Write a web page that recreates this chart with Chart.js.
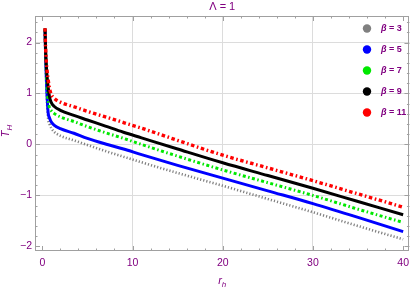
<!DOCTYPE html>
<html><head><meta charset="utf-8">
<script src="https://cdn.jsdelivr.net/npm/chart.js@4/dist/chart.umd.min.js"></script>
<style>html,body{margin:0;padding:0;background:#fff;}canvas{display:block;}</style>
</head><body>
<canvas id="c" width="415" height="289"></canvas>
<script>
const rh = [0.3,0.35,0.4,0.5,0.65,0.8,1,1.3,2,3.5,5,7,9,11,15,20,25,30,35,40];
const beta3  = [2.22,1.80,1.45,0.92,0.50,0.40,0.32,0.25,0.17,0.08,-0.01,-0.13,-0.24,-0.35,-0.56,-0.81,-1.07,-1.33,-1.60,-1.86];
const beta5  = [2.25,1.85,1.52,1.05,0.62,0.52,0.44,0.38,0.31,0.22,0.12,0.01,-0.09,-0.20,-0.41,-0.66,-0.91,-1.16,-1.43,-1.71];
const beta7  = [2.26,1.90,1.62,1.22,0.85,0.72,0.66,0.61,0.54,0.45,0.35,0.23,0.12,0.00,-0.23,-0.50,-0.75,-1.00,-1.27,-1.53];
const beta9  = [2.28,1.95,1.70,1.40,1.12,0.93,0.82,0.75,0.67,0.57,0.48,0.36,0.24,0.13,-0.09,-0.36,-0.61,-0.86,-1.12,-1.38];
const beta11 = [2.28,1.98,1.76,1.50,1.27,1.10,0.98,0.91,0.83,0.74,0.65,0.54,0.43,0.32,0.08,-0.21,-0.46,-0.71,-0.97,-1.23];
const seriesLabels = ['\u03B2 = 3','\u03B2 = 5','\u03B2 = 7','\u03B2 = 9','\u03B2 = 11'];
const xTickValues = [0,10,20,30,40];
const yTickValues = [-2,-1,0,1,2];
const titleText = '\u039B = 1';

const PURPLE = '#800080';
const colors = ['#808080','#0000ff','#00e800','#000000','#ff0000'];
const widths = [2.6,3,3,3,3.4];
const dashes = [[1.2,2.0],[],[3,2.5,1.5,2.5],[],[3.5,2.6,1.6,2.6]];
const allSeries = [beta3,beta5,beta7,beta9,beta11];

const datasets = allSeries.map((s,i)=>({
  label: seriesLabels[i],
  data: rh.map((r,j)=>({x:r,y:s[j]})),
  borderColor: colors[i],
  borderWidth: widths[i],
  borderDash: dashes[i],
  borderCapStyle: 'butt',
  pointRadius: 0,
  fill: false,
  cubicInterpolationMode: 'monotone',
  order: 5-i
}));

const framePlugin = {
  id:'frame',
  afterDraw(chart){
    const ctx = chart.ctx, a = chart.chartArea;
    const xs = chart.scales.x, ys = chart.scales.y;
    ctx.save();
    ctx.strokeStyle = '#a0a0a0';
    ctx.lineWidth = 1;
    ctx.strokeRect(Math.round(a.left)+0.5, Math.round(a.top)+0.5, Math.round(a.right-a.left)-1, Math.round(a.bottom-a.top)-1);
    ctx.beginPath();
    for (let v=0; v<=40.001; v+=2){
      const major = Math.abs(v%10)<1e-6;
      const len = major?5:2.5;
      const px = Math.round(xs.getPixelForValue(v))+0.5;
      ctx.moveTo(px,a.bottom); ctx.lineTo(px,a.bottom-len);
      ctx.moveTo(px,a.top); ctx.lineTo(px,a.top+len);
    }
    for (let k=-10; k<=12; k++){
      const v=k*0.2;
      const major = k%5===0;
      const len = major?5:2.5;
      const py = Math.round(ys.getPixelForValue(v))+0.5;
      ctx.moveTo(a.left,py); ctx.lineTo(a.left+len,py);
      ctx.moveTo(a.right,py); ctx.lineTo(a.right-len,py);
    }
    ctx.stroke();

    ctx.fillStyle = PURPLE;
    ctx.font = '11px "Liberation Sans", Arial, sans-serif';
    ctx.textAlign='center'; ctx.textBaseline='middle';
    ctx.fillText(titleText, (a.left+a.right)/2, 7);

    const cx = (a.left+a.right)/2, cy = 282;
    ctx.font = 'italic 11px "Liberation Sans", Arial, sans-serif';
    ctx.textAlign='left'; ctx.textBaseline='alphabetic';
    const wr = ctx.measureText('r').width;
    ctx.font = 'italic 8px "Liberation Sans", Arial, sans-serif';
    const wh = ctx.measureText('h').width;
    const x0 = cx-(wr+wh)/2;
    ctx.font = 'italic 11px "Liberation Sans", Arial, sans-serif';
    ctx.fillText('r', x0, cy+2);
    ctx.font = 'italic 8px "Liberation Sans", Arial, sans-serif';
    ctx.fillText('h', x0+wr, cy+4.5);

    ctx.save();
    ctx.translate(9, 131);
    ctx.rotate(-Math.PI/2);
    ctx.font = 'italic 11px "Liberation Sans", Arial, sans-serif';
    const wT = ctx.measureText('T').width;
    ctx.font = 'italic 8px "Liberation Sans", Arial, sans-serif';
    const wH = ctx.measureText('H').width;
    const t0 = -(wT+wH)/2;
    ctx.font = 'italic 11px "Liberation Sans", Arial, sans-serif';
    ctx.fillText('T', t0, 0);
    ctx.font = 'italic 8px "Liberation Sans", Arial, sans-serif';
    ctx.fillText('H', t0+wT, 2.5);
    ctx.restore();

    const lx = 367, ly0 = 28.5, dy = 21;
    chart.data.datasets.forEach((d,i)=>{
      const y = ly0 + i*dy;
      ctx.beginPath();
      ctx.fillStyle = colors[i];
      ctx.arc(lx, y, 4.2, 0, Math.PI*2);
      ctx.fill();
      ctx.fillStyle = PURPLE;
      ctx.textBaseline='middle';
      ctx.textAlign='left';
      ctx.font = 'bold italic 9px "Liberation Sans", Arial, sans-serif';
      ctx.fillText('\u03B2', 381, y+0.5);
      const wb = ctx.measureText('\u03B2').width;
      ctx.font = 'bold 9px "Liberation Sans", Arial, sans-serif';
      ctx.fillText(d.label.slice(1), 381+wb, y+0.5);
    });
    ctx.restore();
  }
};

new Chart(document.getElementById('c'), {
  type:'line',
  data:{datasets},
  options:{
    responsive:false,
    animation:false,
    devicePixelRatio:1,
    layout:{padding:{top:16,right:1,left:0,bottom:0}},
    plugins:{legend:{display:false},title:{display:false},tooltip:{enabled:false}},
    scales:{
      x:{
        type:'linear', min:-0.81, max:40.7,
        border:{display:false},
        afterBuildTicks(s){ s.ticks = xTickValues.map(v=>({value:v})); },
        afterFit(s){ s.height = 38; },
        grid:{drawTicks:false, color:(c)=> (c.tick && (c.tick.value===0||c.tick.value===40)) ? 'rgba(0,0,0,0)' : '#dcdcdc', lineWidth:1},
        ticks:{color:PURPLE, padding:6, font:{family:'"Liberation Sans", Arial, sans-serif', size:10.5}, maxRotation:0, autoSkip:false,
          callback:(v)=> String(v)}
      },
      y:{
        type:'linear', min:-2.09, max:2.52,
        border:{display:false},
        afterBuildTicks(s){ s.ticks = yTickValues.map(v=>({value:v})); },
        afterFit(s){ s.width = 35; },
        grid:{drawTicks:false, color:(c)=> (c.tick && c.tick.value===-2) ? 'rgba(0,0,0,0)' : '#dcdcdc', lineWidth:1},
        ticks:{color:PURPLE, padding:3, font:{family:'"Liberation Sans", Arial, sans-serif', size:10.5}, autoSkip:false,
          callback:(v)=> v<0 ? '\u2212'+Math.abs(v) : String(v)}
      }
    }
  },
  plugins:[framePlugin]
});
</script>
</body></html>
